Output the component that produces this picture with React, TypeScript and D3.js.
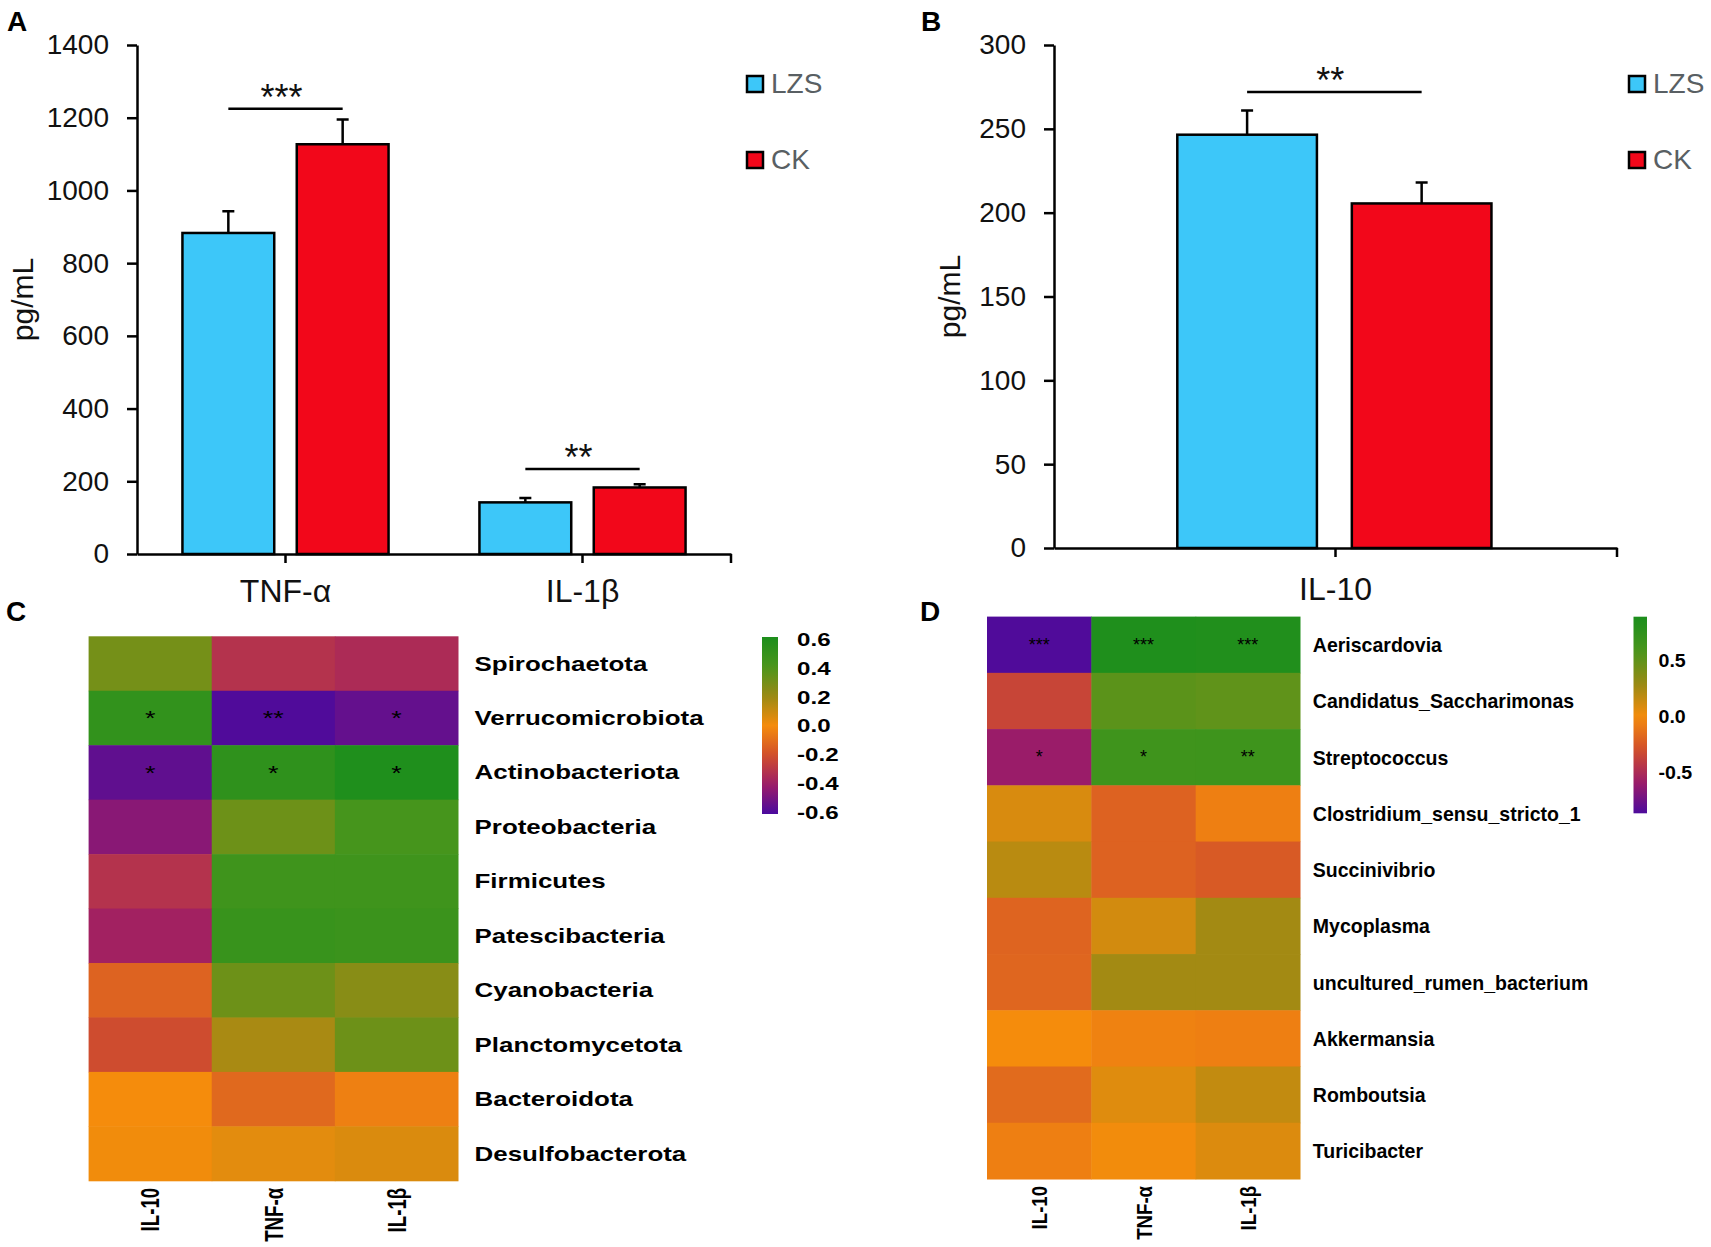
import React, { useEffect, useRef } from 'react';
import * as d3 from 'd3';

// ---- data ----
const groups = ['LZS', 'CK'];
const groupColors = ['#3dc7f9', '#f2071a'];

const cytokinesA = ['TNF-α', 'IL-1β'];
const lzsA = [883, 142];
const lzsErrA = [60, 12];
const ckA = [1127, 183];
const ckErrA = [68, 9];
const ticksA = [0, 200, 400, 600, 800, 1000, 1200, 1400];
const sigA = ['***', '**'];
const sigLevelA = [1225, 234];

const cytokinesB = ['IL-10'];
const lzsB = [246.5];
const lzsErrB = [14.5];
const ckB = [205.5];
const ckErrB = [12.5];
const ticksB = [0, 50, 100, 150, 200, 250, 300];
const sigB = ['**'];
const sigLevelB = [272];

const heatCols = ['IL-10', 'TNF-α', 'IL-1β'];

const phylaC = [
  'Spirochaetota', 'Verrucomicrobiota', 'Actinobacteriota', 'Proteobacteria', 'Firmicutes',
  'Patescibacteria', 'Cyanobacteria', 'Planctomycetota', 'Bacteroidota', 'Desulfobacterota',
];
const corrC = [
  [0.3, -0.32, -0.35],
  [0.52, -0.6, -0.55],
  [-0.56, 0.53, 0.6],
  [-0.46, 0.32, 0.43],
  [-0.32, 0.46, 0.46],
  [-0.39, 0.49, 0.48],
  [-0.14, 0.32, 0.25],
  [-0.22, 0.17, 0.32],
  [0.0, -0.12, -0.04],
  [0.01, 0.04, 0.06],
];
const starsC = [
  ['', '', ''],
  ['*', '**', '*'],
  ['*', '*', '*'],
  ['', '', ''], ['', '', ''], ['', '', ''], ['', '', ''], ['', '', ''], ['', '', ''], ['', '', ''],
];
const legendTicksC = [0.6, 0.4, 0.2, 0.0, -0.2, -0.4, -0.6];

const generaD = [
  'Aeriscardovia', 'Candidatus_Saccharimonas', 'Streptococcus', 'Clostridium_sensu_stricto_1',
  'Succinivibrio', 'Mycoplasma', 'uncultured_rumen_bacterium', 'Akkermansia', 'Romboutsia', 'Turicibacter',
];
const corrD = [
  [-0.85, 0.85, 0.84],
  [-0.35, 0.52, 0.5],
  [-0.59, 0.65, 0.66],
  [0.09, -0.2, -0.06],
  [0.19, -0.2, -0.24],
  [-0.19, 0.11, 0.26],
  [-0.18, 0.26, 0.26],
  [0.0, -0.05, -0.06],
  [-0.16, 0.07, 0.16],
  [-0.06, 0.01, 0.08],
];
const starsD = [
  ['***', '***', '***'],
  ['', '', ''],
  ['*', '*', '**'],
  ['', '', ''], ['', '', ''], ['', '', ''], ['', '', ''], ['', '', ''], ['', '', ''], ['', '', ''],
];
const legendTicksD = [0.5, 0.0, -0.5];

const rampStops = [-1, -0.67, -0.33, 0, 0.33, 0.67, 1];
const rampColors = ['#4a0a9e', '#9c1c68', '#d2502a', '#f58c0c', '#9a8a14', '#4a961c', '#1c8e1c'];

const FONT = '"Liberation Sans", Arial, Helvetica, sans-serif';

// plain hyphen, as in the figure
const fmt1 = (v: number) => v.toFixed(1);

const App: React.FC = () => {
  const svgRef = useRef<SVGSVGElement>(null);

  useEffect(() => {
    document.body.style.margin = '0';
    if (!svgRef.current) return;
    const svg = d3.select(svgRef.current);
    svg.selectAll('*').remove();
    svg.append('rect').attr('width', 1711).attr('height', 1247).attr('fill', '#fff');

    const ramp = d3.scaleLinear<string>()
      .domain(rampStops)
      .range(rampColors)
      .interpolate(d3.interpolateRgb)
      .clamp(true);

    // panel letters
    const letters: [string, number, number][] = [['A', 7, 31], ['B', 921, 31], ['C', 6, 621], ['D', 920, 621]];
    letters.forEach(([t, x, y]) => {
      svg.append('text').attr('x', x).attr('y', y).attr('font-family', FONT)
        .attr('font-weight', 'bold').attr('font-size', 28).text(t);
    });

    // ---------- bar panels ----------
    const barPanel = (opts: {
      cats: string[]; lzs: number[]; lzsErr: number[]; ck: number[]; ckErr: number[];
      ticks: number[]; max: number; x0: number; x1: number; yTop: number; yBot: number;
      sub0: number; sub1: number; pad: number; sig: string[]; sigLevel: number[];
      labelX: number; legendX: number; labelPad: number;
    }) => {
      const g = svg.append('g').attr('font-family', FONT);
      const y = d3.scaleLinear().domain([0, opts.max]).range([opts.yBot, opts.yTop]);
      const x = d3.scaleBand<string>().domain(opts.cats).range([opts.x0, opts.x1]);
      const bw = x.bandwidth();
      const xs = d3.scaleBand<string>().domain(groups)
        .range([opts.sub0 * bw, opts.sub1 * bw]).paddingInner(opts.pad);

      // y axis
      const ya = g.append('g').attr('transform', `translate(${opts.x0},0)`)
        .call(d3.axisLeft(y).tickValues(opts.ticks).tickSize(10).tickSizeOuter(0).tickPadding(18)
          .tickFormat(d3.format('d')));
      ya.select('.domain').attr('stroke-width', 2.5).attr('stroke', '#000');
      ya.selectAll('.tick line').attr('stroke-width', 2.5).attr('stroke', '#000');
      ya.selectAll('.tick text').attr('font-size', 28).attr('font-family', FONT).attr('fill', '#111');

      // x axis
      const xa = g.append('g').attr('transform', `translate(0,${opts.yBot})`)
        .call(d3.axisBottom(x).tickSize(9).tickSizeOuter(0).tickPadding(opts.labelPad));
      xa.select('.domain').attr('stroke-width', 2.5).attr('stroke', '#000');
      xa.selectAll('.tick line').attr('stroke-width', 2.5).attr('stroke', '#000');
      xa.selectAll('.tick text').attr('font-size', 32).attr('font-family', FONT).attr('fill', '#111');
      g.append('line').attr('x1', opts.x1).attr('x2', opts.x1)
        .attr('y1', opts.yBot).attr('y2', opts.yBot + 9)
        .attr('stroke', '#000').attr('stroke-width', 2.5);

      // bars
      const rows = opts.cats.map((c, i) => ({
        c,
        vals: [
          { key: 'LZS', v: opts.lzs[i], e: opts.lzsErr[i] },
          { key: 'CK', v: opts.ck[i], e: opts.ckErr[i] },
        ],
      }));
      const cg = g.selectAll('.cat').data(rows).enter().append('g')
        .attr('transform', (d) => `translate(${x(d.c)},0)`);
      // error bars (upper only)
      cg.selectAll('.err').data((d) => d.vals).enter().append('path')
        .attr('d', (d) => {
          const cx = (xs(d.key) as number) + xs.bandwidth() / 2;
          const yt = y(d.v + d.e);
          return `M${cx},${y(d.v)}V${yt}M${cx - 6},${yt}H${cx + 6}`;
        })
        .attr('stroke', '#000').attr('stroke-width', 2.5).attr('fill', 'none');
      cg.selectAll('.bar').data((d) => d.vals).enter().append('rect')
        .attr('x', (d) => xs(d.key) as number)
        .attr('y', (d) => y(d.v))
        .attr('width', xs.bandwidth())
        .attr('height', (d) => y(0) - y(d.v))
        .attr('fill', (d, i) => groupColors[i])
        .attr('stroke', '#000').attr('stroke-width', 2.5);

      // significance
      opts.cats.forEach((c, i) => {
        const xa0 = (x(c) as number) + (xs('LZS') as number) + xs.bandwidth() / 2;
        const xa1 = (x(c) as number) + (xs('CK') as number) + xs.bandwidth() / 2;
        const ly = y(opts.sigLevel[i]);
        g.append('line').attr('x1', xa0).attr('x2', xa1).attr('y1', ly).attr('y2', ly)
          .attr('stroke', '#000').attr('stroke-width', 2.5);
        g.append('text').attr('x', (xa0 + xa1) / 2 - 4).attr('y', ly + 1)
          .attr('text-anchor', 'middle').attr('font-size', 36).attr('fill', '#111')
          .text(opts.sig[i]);
      });

      // y label
      g.append('text')
        .attr('transform', `translate(${opts.labelX},${(opts.yTop + opts.yBot) / 2}) rotate(-90)`)
        .attr('text-anchor', 'middle').attr('font-size', 30).attr('fill', '#111').text('pg/mL');

      // legend
      groups.forEach((k, i) => {
        const ly = 76 + i * 76;
        g.append('rect').attr('x', opts.legendX).attr('y', ly).attr('width', 16).attr('height', 16)
          .attr('fill', groupColors[i]).attr('stroke', '#000').attr('stroke-width', 2.5);
        g.append('text').attr('x', opts.legendX + 24).attr('y', ly + 17)
          .attr('font-size', 28).attr('fill', '#595f63').text(k);
      });
    };

    barPanel({
      cats: cytokinesA, lzs: lzsA, lzsErr: lzsErrA, ck: ckA, ckErr: ckErrA, ticks: ticksA, max: 1400,
      x0: 137, x1: 731, yTop: 45, yBot: 554, sub0: 0.153, sub1: 0.847, pad: 0.197,
      sig: sigA, sigLevel: sigLevelA, labelX: 33, legendX: 747, labelPad: 16,
    });
    barPanel({
      cats: cytokinesB, lzs: lzsB, lzsErr: lzsErrB, ck: ckB, ckErr: ckErrB, ticks: ticksB, max: 300,
      x0: 1054, x1: 1617, yTop: 45, yBot: 548, sub0: 0.219, sub1: 0.777, pad: 0.2,
      sig: sigB, sigLevel: sigLevelB, labelX: 960, legendX: 1629, labelPad: 20,
    });

    // ---------- heatmaps ----------
    const heatPanel = (opts: {
      id: string; rows: string[]; corr: number[][]; stars: string[][]; maxAbs: number;
      x0: number; x1: number; y0: number; y1: number; rowGap: number;
      rowFont: number; rowSx: number; colFont: number; colSx: number; starFont: number; starSx: number;
      starDy: number;
      barX: number; barW: number; barY0: number; barY1: number; barDomain: [number, number];
      legendTicks: number[]; legendFont: number; legendSx: number; legendGap: number;
      legendVals: [number, number]; legendPos: [number, number];
    }) => {
      const g = svg.append('g').attr('font-family', FONT);
      const x = d3.scaleBand<string>().domain(heatCols).range([opts.x0, opts.x1]);
      const y = d3.scaleBand<string>().domain(opts.rows).range([opts.y0, opts.y1]);
      const color = (v: number) => ramp(v / opts.maxAbs);

      const cells = opts.rows.flatMap((r, i) => heatCols.map((c, j) => ({
        r, c, v: opts.corr[i][j], s: opts.stars[i][j],
      })));
      g.selectAll('.cell').data(cells).enter().append('rect')
        .attr('x', (d) => x(d.c) as number)
        .attr('y', (d) => y(d.r) as number)
        .attr('width', x.bandwidth() + 0.5)
        .attr('height', y.bandwidth() + 0.5)
        .attr('fill', (d) => color(d.v));
      g.selectAll('.star').data(cells.filter((d) => d.s)).enter().append('text')
        .attr('transform', (d) => `translate(${(x(d.c) as number) + x.bandwidth() / 2},${(y(d.r) as number) + y.bandwidth() / 2 + opts.starDy}) scale(${opts.starSx},1)`)
        .attr('text-anchor', 'middle').attr('font-size', opts.starFont).attr('fill', '#000')
        .text((d) => d.s);

      // row labels
      g.selectAll('.rowlab').data(opts.rows).enter().append('text')
        .attr('transform', (d) => `translate(${opts.x1 + opts.rowGap},${(y(d) as number) + y.bandwidth() / 2 + opts.rowFont * 0.358}) scale(${opts.rowSx},1)`)
        .attr('font-size', opts.rowFont).attr('font-weight', 'bold').attr('fill', '#000')
        .text((d) => d);

      // column labels
      g.selectAll('.collab').data(heatCols).enter().append('text')
        .attr('transform', (d) => `translate(${(x(d) as number) + x.bandwidth() / 2},${opts.y1 + 7}) scale(${opts.colSx},1) rotate(-90)`)
        .attr('text-anchor', 'end').attr('dy', '0.36em')
        .attr('font-size', opts.colFont).attr('font-weight', 'bold').attr('fill', '#000')
        .text((d) => d);

      // colour bar
      const gradId = `grad${opts.id}`;
      const grad = svg.append('defs').append('linearGradient').attr('id', gradId)
        .attr('x1', 0).attr('x2', 0).attr('y1', 1).attr('y2', 0);
      d3.range(0, 21).forEach((k) => {
        const t = k / 20;
        const v = opts.barDomain[0] + t * (opts.barDomain[1] - opts.barDomain[0]);
        grad.append('stop').attr('offset', t).attr('stop-color', color(v));
      });
      g.append('rect').attr('x', opts.barX).attr('y', opts.barY0)
        .attr('width', opts.barW).attr('height', opts.barY1 - opts.barY0)
        .attr('fill', `url(#${gradId})`);
      const ly = d3.scaleLinear().domain(opts.legendVals).range(opts.legendPos);
      g.selectAll('.leg').data(opts.legendTicks).enter().append('text')
        .attr('transform', (d) => `translate(${opts.barX + opts.barW + opts.legendGap},${ly(d) + opts.legendFont * 0.358}) scale(${opts.legendSx},1)`)
        .attr('font-size', opts.legendFont).attr('font-weight', 'bold').attr('fill', '#000')
        .text((d) => fmt1(d));
    };

    heatPanel({
      id: 'C', rows: phylaC, corr: corrC, stars: starsC, maxAbs: 0.615,
      x0: 88.6, x1: 458, y0: 636.3, y1: 1180.8, rowGap: 16.5,
      rowFont: 19.5, rowSx: 1.33, colFont: 18.7, colSx: 1.38, starFont: 20, starSx: 1.35, starDy: 7.4,
      barX: 762, barW: 16, barY0: 637, barY1: 814, barDomain: [-0.615, 0.615],
      legendTicks: legendTicksC, legendFont: 17.5, legendSx: 1.38, legendGap: 19,
      legendVals: [-0.6, 0.6], legendPos: [812.8, 639.5],
    });
    heatPanel({
      id: 'D', rows: generaD, corr: corrD, stars: starsD, maxAbs: 0.87,
      x0: 987, x1: 1300, y0: 616.6, y1: 1179, rowGap: 12.8,
      rowFont: 21, rowSx: 0.93, colFont: 18.6, colSx: 1.23, starFont: 18, starSx: 1, starDy: 5.8,
      barX: 1633.5, barW: 13.5, barY0: 616.7, barY1: 813.3, barDomain: [-0.86, 0.89],
      legendTicks: legendTicksD, legendFont: 17.5, legendSx: 1.12, legendGap: 11.5,
      legendVals: [-0.5, 0.5], legendPos: [773, 660.3],
    });
  }, []);

  return (
    <svg ref={svgRef} width={1711} height={1247} style={{ display: 'block' }} />
  );
};

export default App;
